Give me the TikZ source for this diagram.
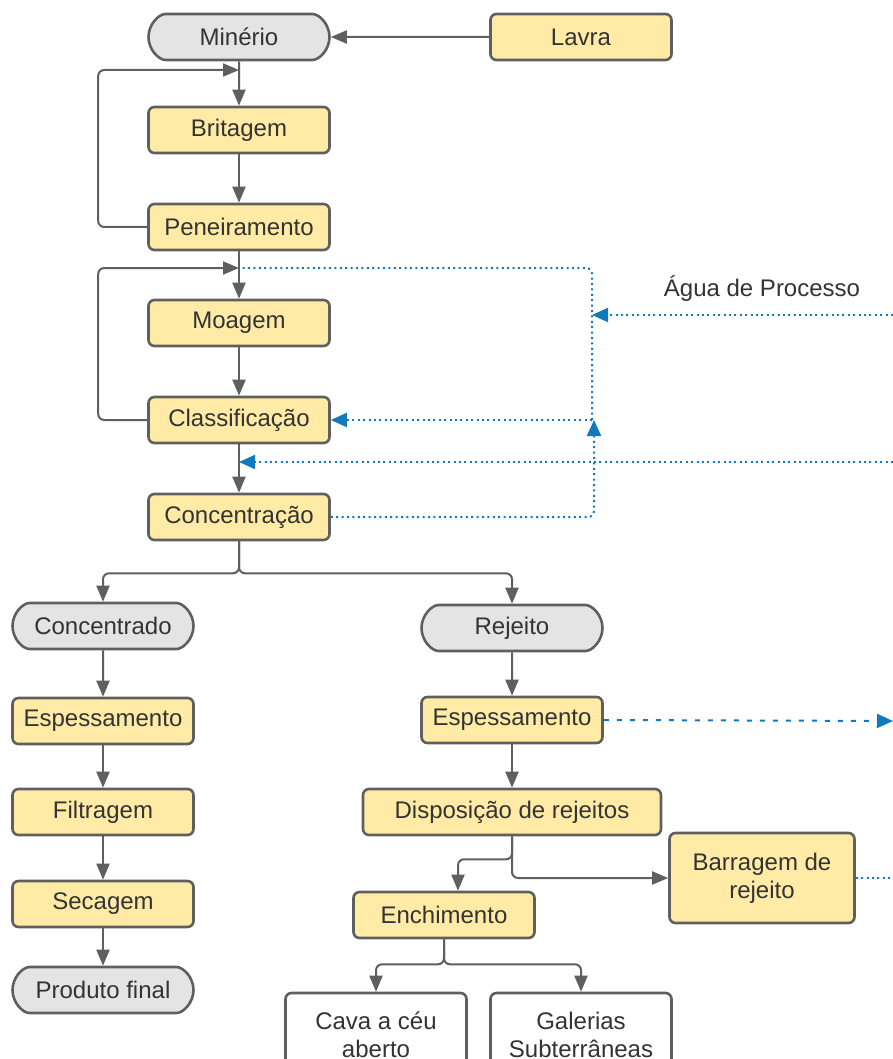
\documentclass[tikz,border=0pt]{standalone}
\usepackage{fontspec}
\setmainfont{Liberation Sans}
\usetikzlibrary{shapes.misc,arrows.meta}

\definecolor{boxfill}{HTML}{FFEBA6}
\definecolor{endfill}{HTML}{E4E4E4}
\definecolor{edge}{HTML}{5F5F5F}
\definecolor{water}{HTML}{1279BF}
\definecolor{txt}{HTML}{333333}

\tikzset{
  stepbox/.style={draw=edge, line width=2.6pt, fill=boxfill, rounded corners=6pt,
    minimum width=181pt, minimum height=46pt, inner sep=0pt, text=txt,
    font=\fontsize{24}{28}\selectfont},
  endbox/.style={stepbox, rounded rectangle, fill=endfill},
  sitebox/.style={stepbox, fill=white, align=center, minimum height=84pt},
  conn/.style={draw=edge, line width=2pt, rounded corners=6pt,
    -{Triangle[length=16pt,width=13pt]}},
  waterflow/.style={draw=water, line width=2pt, dash pattern=on 2pt off 3.4pt,
    rounded corners=6pt},
  waterarrow/.style={waterflow, -{Triangle[length=16pt,width=14pt]}}
}

\begin{document}
\begin{tikzpicture}[x=1pt,y=-1pt]
\useasboundingbox (0,0) rectangle (893,1059);
\clip (0,0) rectangle (893,1059);

  \node[endbox] (minerio) at (239,37) {Minério};
  \node[stepbox] (lavra) at (581,37) {Lavra};
  \node[stepbox] (brit) at (239,130) {Britagem};
  \node[stepbox] (pen) at (239,227) {Peneiramento};
  \node[stepbox] (moag) at (239,323) {Moagem};
  \node[stepbox] (class) at (239,420) {Classificação};
  \node[stepbox] (conc) at (239,517) {Concentração};

  \node[endbox] (cdo) at (103,626) {Concentrado};
  \node[stepbox] (espL) at (103,721) {Espessamento};
  \node[stepbox] (filt) at (103,812) {Filtragem};
  \node[stepbox] (sec) at (103,904) {Secagem};
  \node[endbox] (prod) at (103,990) {Produto final};

  \node[endbox] (rej) at (512,628) {Rejeito};
  \node[stepbox] (espR) at (512,720) {Espessamento};
  \node[stepbox, minimum width=298pt] (disp) at (512,812) {Disposição de rejeitos};
  \node[stepbox, align=center, minimum width=185pt, minimum height=90pt]
    (barr) at (762,878) {Barragem de\\rejeito};
  \node[stepbox] (ench) at (444,915) {Enchimento};
  \node[sitebox] (cava) at (376,1035) {Cava a céu\\aberto};
  \node[sitebox] (gal) at (581,1035) {Galerias\\Subterrâneas};

  \node[text=txt, font=\fontsize{24}{28}\selectfont] (agua) at (762,289) {Água de Processo};

  \coordinate (j1) at (239,70);
  \coordinate (j2) at (239,268);
  \coordinate (j3) at (239,462);
  \coordinate (v1) at (592,315);
  \coordinate (v2) at (592,420);
  \coordinate (v3) at (594,420);
  \coordinate (w1) at (893,315);
  \coordinate (w2) at (893,462);
  \coordinate (w3) at (893,721);
  \coordinate (w4) at (893,878);

  % circuito principal
  \draw[conn] (lavra) -- (minerio);
  \draw[conn] (minerio) -- (brit);
  \draw[conn] (brit) -- (pen);
  \draw[conn] (pen) -- (moag);
  \draw[conn] (moag) -- (class);
  \draw[conn] (class) -- (conc);
  \draw[conn] (pen.west) -- ++(-49,0) |- (j1);
  \draw[conn] (class.west) -- ++(-49,0) |- (j2);
  \draw[conn] (conc.south) -- ++(0,32) -| (cdo.north);
  \draw[conn] (conc.south) -- ++(0,32) -| (rej.north);

  \draw[conn] (cdo) -- (espL);
  \draw[conn] (espL) -- (filt);
  \draw[conn] (filt) -- (sec);
  \draw[conn] (sec) -- (prod);

  \draw[conn] (rej) -- (espR);
  \draw[conn] (espR) -- (disp);
  \draw[conn] (disp.south) -- ++(0,23) -| ([xshift=14pt]ench.north);
  \draw[conn] (disp.south) |- (barr.west);
  \draw[conn] (ench.south) -- ++(0,25) -| (cava.north);
  \draw[conn] (ench.south) -- ++(0,25) -| (gal.north);

  % água de processo
  \draw[waterflow] (v2) |- (j2);
  \draw[waterarrow] (conc.east) -| (v3);
  \draw[waterarrow] (w1) -- (v1);
  \draw[waterarrow] (v2) -- (class.east);
  \draw[waterarrow] (w2) -- (j3);
  \draw[waterarrow, dash pattern=on 5pt off 8pt] (espR.east) -- (w3);
  \draw[waterflow] (barr.east) -- (w4);

\end{tikzpicture}
\end{document}
